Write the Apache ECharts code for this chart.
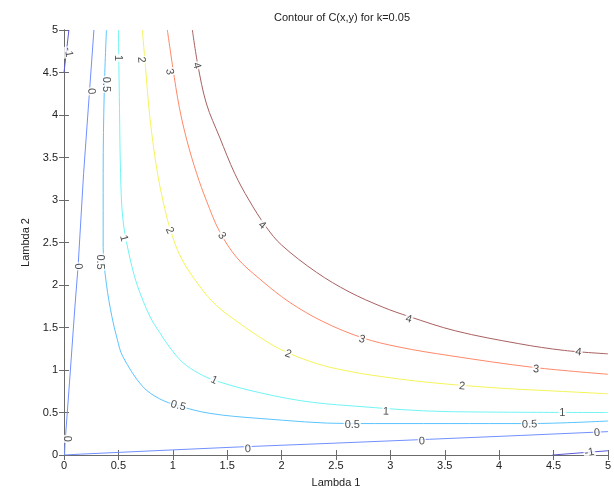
<!DOCTYPE html>
<html>
<head>
<meta charset="utf-8">
<script src="https://cdn.jsdelivr.net/npm/echarts@6/dist/echarts.min.js"></script>
<style>
  html, body { margin: 0; padding: 0; background: #fff; }
  #chart { width: 614px; height: 493px; }
</style>
</head>
<body>
<div id="chart"></div>
<script>
// contour levels and their line data
var levels = ['-1', '0', '0.5', '1', '2', '3', '4'];
var cMinus1Top = [[0.045, 5.0], [0.0, 4.5]];
var cMinus1Bottom = [[4.49, 0.0], [5.0, 0.05]];
var c0 = [[0.275, 5.0], [0.23, 4.2], [0.18, 3.31], [0.13, 2.23], [0.10, 1.74], [0.055, 0.93], [0.01, 0.15], [0.005, 0.0],
  [0.15, 0.01], [1.0, 0.06], [1.61, 0.095], [2.5, 0.14], [3.36, 0.185], [4.2, 0.23], [5.0, 0.275]];
var c05 = [[0.39, 5.0], [0.37, 4.28], [0.36, 3.31], [0.36, 2.44], [0.39, 2.01], [0.44, 1.63], [0.49, 1.36], [0.54, 1.16],
  [0.72, 0.81], [0.88, 0.66], [1.05, 0.58], [1.34, 0.49], [1.80, 0.43], [2.62, 0.37], [3.54, 0.37], [4.28, 0.37], [5.0, 0.40]];
var c1 = [[0.50, 5.0], [0.51, 4.09], [0.52, 3.31], [0.54, 2.79], [0.59, 2.41], [0.67, 2.01], [0.79, 1.63], [0.88, 1.44],
  [0.97, 1.27], [1.09, 1.09], [1.24, 0.96], [1.38, 0.88], [1.71, 0.76], [2.17, 0.64], [2.62, 0.58], [3.54, 0.51], [5.0, 0.50]];
var c2 = [[0.72, 5.0], [0.75, 4.55], [0.78, 4.09], [0.815, 3.70], [0.86, 3.31], [0.91, 2.99], [0.98, 2.64], [1.08, 2.31],
  [1.25, 1.98], [1.40, 1.76], [1.58, 1.58], [1.76, 1.42], [1.98, 1.25], [2.31, 1.08], [2.64, 0.98], [2.99, 0.91],
  [3.31, 0.86], [3.70, 0.815], [4.09, 0.78], [4.55, 0.75], [5.0, 0.72]];
var c3 = [[0.95, 5.0], [1.00, 4.56], [1.06, 4.09], [1.13, 3.70], [1.22, 3.31], [1.31, 2.99], [1.43, 2.63], [1.59, 2.32],
  [1.80, 2.07], [2.07, 1.80], [2.38, 1.57], [2.74, 1.38], [3.08, 1.27], [3.54, 1.17], [4.32, 1.03], [5.0, 0.95]];
var c4 = [[1.18, 5.0], [1.23, 4.59], [1.31, 4.13], [1.43, 3.74], [1.57, 3.31], [1.70, 3.0], [1.86, 2.68], [2.0, 2.47],
  [2.32, 2.15], [2.62, 1.92], [2.93, 1.74], [3.17, 1.63], [3.6, 1.46], [4.18, 1.31], [4.6, 1.23], [5.0, 1.19]];

// inline contour labels: [x, y, text]
var labelPts = [
  [0.04, 4.74, '-1'], [4.83, 0.03, '-1'],
  [0.25, 4.28, '0'], [0.13, 2.22, '0'], [0.03, 0.19, '0'], [1.69, 0.07, '0'], [3.29, 0.16, '0'], [4.90, 0.26, '0'],
  [0.385, 4.36, '0.5'], [0.33, 2.27, '0.5'], [1.05, 0.58, '0.5'], [2.65, 0.35, '0.5'], [4.28, 0.36, '0.5'],
  [0.50, 4.67, '1'], [0.55, 2.55, '1'], [1.38, 0.88, '1'], [2.96, 0.51, '1'], [4.58, 0.50, '1'],
  [0.71, 4.65, '2'], [0.97, 2.64, '2'], [2.06, 1.19, '2'], [3.66, 0.81, '2'],
  [0.97, 4.51, '3'], [1.45, 2.58, '3'], [2.74, 1.36, '3'], [4.34, 1.01, '3'],
  [1.22, 4.58, '4'], [1.82, 2.70, '4'], [3.17, 1.60, '4'], [4.73, 1.21, '4']
];
var labelRot = [-80, 10, -85, -87, -90, 3, 3, 5, -90, -90, -15, 0, 2, -90, -75, -25, -2, 0, -85, -65, -20, -5, -80, -55, -15, -5, -75, -40, -15, -8];

var ticks = ['0', '0.5', '1', '1.5', '2', '2.5', '3', '3.5', '4', '4.5', '5'];

var colors = {
  '-1': '#5a5ad8', '0': '#7090ff', '0.5': '#5cc4ff', '1': '#70f4f4',
  '2': '#f4f45a', '3': '#ff8868', '4': '#a86060'
};

var font = 'Liberation Sans, Arial, sans-serif';

function lineSeries(data, lvl, smooth) {
  return {
    type: 'line',
    data: data,
    smooth: smooth,
    symbol: 'none',
    silent: true,
    z: 2,
    lineStyle: { color: colors[lvl], width: 1 },
    clip: true
  };
}

var series = [
  lineSeries(cMinus1Top, '-1', false),
  lineSeries(cMinus1Bottom, '-1', false),
  lineSeries(c0, '0', false),
  lineSeries(c05, '0.5', 0.35),
  lineSeries(c1, '1', 0.35),
  lineSeries(c2, '2', 0.35),
  lineSeries(c3, '3', 0.35),
  lineSeries(c4, '4', 0.35),
  {
    type: 'scatter',
    symbolSize: 0,
    silent: true,
    z: 5,
    data: labelPts.map(function (p, i) {
      return {
        value: [p[0], p[1]],
        label: {
          show: true,
          position: 'inside',
          formatter: p[2],
          rotate: labelRot[i],
          color: '#222',
          fontSize: 11,
          fontFamily: font,
          backgroundColor: '#fff',
          padding: [0, 1]
        }
      };
    })
  }
];

var axisCommon = {
  type: 'value',
  min: 0,
  max: 5,
  interval: 0.5,
  axisLine: { show: true, lineStyle: { color: '#6a6a6a', width: 1 } },
  axisTick: { show: true, inside: true, length: 5, lineStyle: { color: '#6a6a6a' } },
  splitLine: { show: false }
};

var chart = echarts.init(document.getElementById('chart'), null, { renderer: 'canvas' });
chart.setOption({
  animation: false,
  backgroundColor: '#fff',
  title: {
    text: 'Contour of C(x,y) for k=0.05',
    left: 337,
    textAlign: 'center',
    top: 7,
    textStyle: { fontSize: 11, fontWeight: 'normal', color: '#222', fontFamily: font }
  },
  grid: { left: 64, right: 4, top: 30, bottom: 33, containLabel: false },
  xAxis: [
    Object.assign({}, axisCommon, {
      position: 'bottom',
      name: 'Lambda 1',
      nameLocation: 'middle',
      nameGap: 22,
      nameTextStyle: { fontSize: 11, color: '#222', fontFamily: font },
      axisLabel: {
        fontSize: 11, color: '#222', fontFamily: font, margin: 5,
        formatter: function (v) { return ticks[Math.round(v * 2)]; }
      }
    }),
    Object.assign({}, axisCommon, { position: 'top', axisLabel: { show: false } })
  ],
  yAxis: [
    Object.assign({}, axisCommon, {
      position: 'left',
      name: 'Lambda 2',
      nameLocation: 'middle',
      nameGap: 18,
      nameRotate: 90,
      nameTextStyle: { fontSize: 11, color: '#222', fontFamily: font },
      axisLabel: {
        fontSize: 11, color: '#222', fontFamily: font, margin: 6,
        formatter: function (v) { return ticks[Math.round(v * 2)]; }
      }
    }),
    Object.assign({}, axisCommon, { position: 'right', axisLabel: { show: false } })
  ],
  series: series
});
</script>
</body>
</html>
